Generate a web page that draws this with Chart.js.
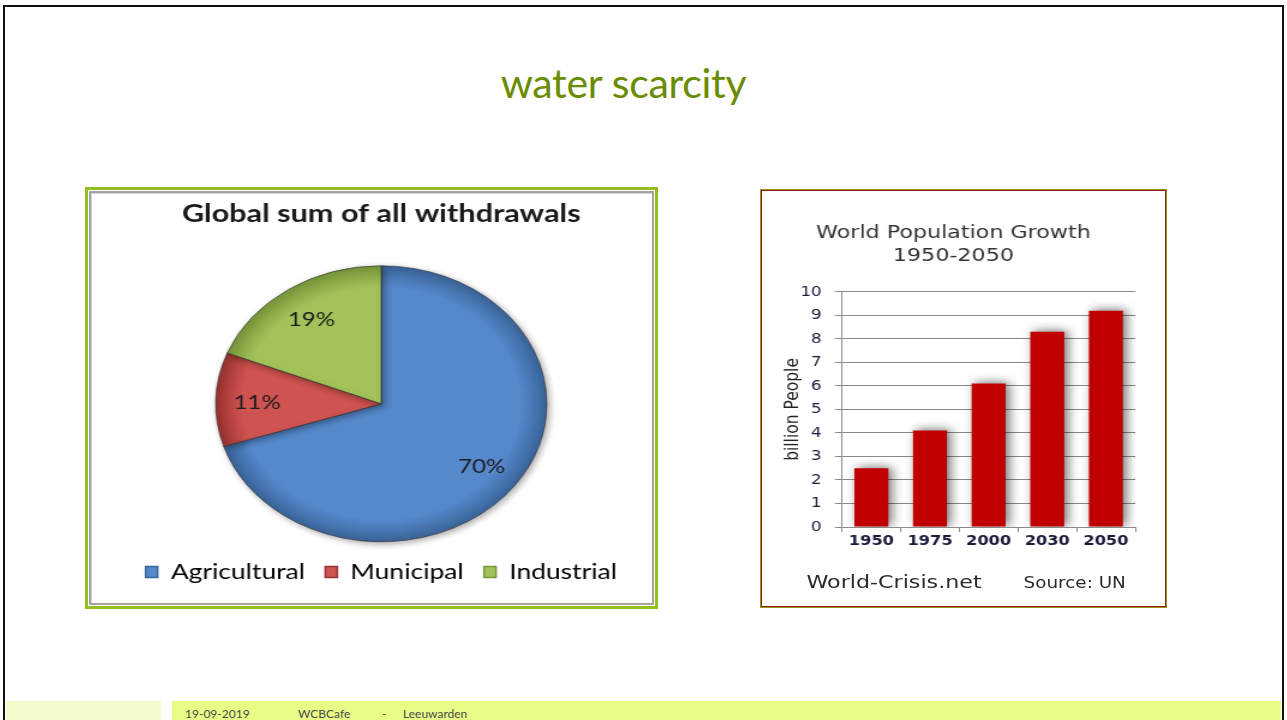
<!DOCTYPE html>
<html>
<head>
<meta charset="utf-8">
<script src="https://cdn.jsdelivr.net/npm/chart.js@4.4.1/dist/chart.umd.min.js"></script>
<style>
  body { margin: 0; width: 1287px; height: 720px; background: #fff; overflow: hidden; position: relative; font-family: Lato, "Open Sans", sans-serif; }
  .frame { position: absolute; left: 3px; top: 5px; width: 1281px; height: 740px; border: 2.5px solid #111; box-sizing: border-box; }
  .band-left { position: absolute; left: 6px; top: 701px; width: 155px; height: 19px; background: #f4fccb; }
  .band-right { position: absolute; left: 172px; top: 701px; width: 1109px; height: 19px; background: #e8fd86; }
  .foot { position: absolute; top: 706px; font-size: 12px; color: #4a4a4a; line-height: 15px; }
  h1 { position: absolute; left: 0; width: 1247px; top: 58px; margin: 0; text-align: center; font-weight: 400; font-size: 41px; color: #6a8c00; line-height: 50px; letter-spacing: -0.3px; }
  .pie-panel { position: absolute; left: 85px; top: 187px; width: 573px; height: 422px; border: 3px solid #93c01f; box-sizing: border-box; background: #fff; }
  .pie-panel .inner { position: absolute; left: 1px; top: 1px; right: 1px; bottom: 1px; border: 2px solid #a4a4a4; box-shadow: inset 1px 1px 0 #d6d6d6; }
  .bar-panel { position: absolute; left: 760px; top: 189px; width: 407px; height: 419px; border: 1px solid #9a9a10; box-sizing: border-box; background: #fff; }
  .bar-panel .inner { position: absolute; left: 0; top: 0; right: 0; bottom: 0; border: 1px solid #8b1d1d; }
  .stretch { position: absolute; transform: scaleX(1.2); transform-origin: 0 0; }
  .stretch canvas { display: block; }
  .credit { position: absolute; font-family: "DejaVu Sans", Verdana, sans-serif; color: #2b2b2b; white-space: nowrap; }
</style>
</head>
<body>
<div class="frame"></div>
<h1>water scarcity</h1>

<div class="pie-panel"><div class="inner"></div></div>
<div class="stretch" style="left:92px; top:193px;">
  <canvas id="pieChart" width="466" height="410"></canvas>
</div>

<div class="bar-panel"><div class="inner"></div></div>
<div class="stretch" style="left:762px; top:191px;">
  <canvas id="barChart" width="336" height="415"></canvas>
  <div class="credit" style="left:37px; top:380px; font-size:18.5px;">World-Crisis.net</div>
  <div class="credit" style="left:218px; top:383px; font-size:15.3px;">Source: UN</div>
</div>

<div class="band-left"></div>
<div class="band-right"></div>
<div class="foot" style="left:185px;">19-09-2019</div>
<div class="foot" style="left:298px;">WCBCafe</div>
<div class="foot" style="left:382px;">-</div>
<div class="foot" style="left:403px;">Leeuwarden</div>

<script>
// pie data
const pieLabels = ['Agricultural', 'Municipal', 'Industrial'];
const pieValues = [70, 11, 19];

// bar data
const years = ['1950', '1975', '2000', '2030', '2050'];
const population = [2.5, 4.1, 6.1, 8.3, 9.2];

const pieColors = ['#5589cc', '#cf5350', '#a2c35a'];
const pieEdges = ['#3a6499', '#9a3230', '#78973a'];
const pieRadius = 138;

// soft drop shadow under the marks
function shadowPlugin(id, color, blur, dx, dy) {
    return {
        id: id,
        beforeDatasetsDraw(chart) {
            const ctx = chart.ctx;
            ctx.save();
            ctx.shadowColor = color;
            ctx.shadowBlur = blur;
            ctx.shadowOffsetX = dx;
            ctx.shadowOffsetY = dy;
        },
        afterDatasetsDraw(chart) {
            chart.ctx.restore();
        }
    };
}

const pieLabelPlugin = {
    id: 'pieLabels',
    afterDraw(chart) {
        const ctx = chart.ctx;
        const meta = chart.getDatasetMeta(0);
        ctx.save();
        ctx.font = '20px Lato';
        ctx.fillStyle = '#1c1c1c';
        ctx.textAlign = 'center';
        ctx.textBaseline = 'middle';
        meta.data.forEach((arc, i) => {
            const mid = (arc.startAngle + arc.endAngle) / 2;
            const r = arc.outerRadius * 0.75;
            ctx.fillText(pieValues[i] + '%', arc.x + Math.cos(mid) * r, arc.y + Math.sin(mid) * r + 1.5);
        });
        ctx.restore();
    }
};

function sliceFill(context) {
    const chart = context.chart;
    const area = chart.chartArea;
    const i = context.dataIndex;
    if (!area) return pieColors[i];
    const cx = (area.left + area.right) / 2;
    const cy = (area.top + area.bottom) / 2;
    const g = chart.ctx.createRadialGradient(cx, cy, 0, cx, cy, pieRadius);
    g.addColorStop(0, pieColors[i]);
    g.addColorStop(0.84, pieColors[i]);
    g.addColorStop(1, pieEdges[i]);
    return g;
}

new Chart(document.getElementById('pieChart'), {
    type: 'pie',
    data: {
        labels: pieLabels,
        datasets: [{
            data: pieValues,
            backgroundColor: sliceFill,
            borderColor: 'rgba(45,45,45,0.6)',
            borderWidth: 1,
            radius: pieRadius
        }]
    },
    options: {
        responsive: false,
        animation: false,
        layout: { padding: { left: 16, bottom: 10 } },
        plugins: {
            title: {
                display: true,
                text: 'Global sum of all withdrawals',
                color: '#1a1a1a',
                font: { family: 'Lato', size: 25.5, weight: 'bold' },
                padding: { top: 5, bottom: 35 }
            },
            legend: {
                position: 'bottom',
                labels: {
                    color: '#1d1d35',
                    font: { family: 'Lato', size: 22 },
                    boxWidth: 10,
                    boxHeight: 11,
                    padding: 17,
                    generateLabels(chart) {
                        return pieLabels.map((label, i) => ({
                            text: label,
                            fillStyle: pieColors[i],
                            strokeStyle: pieEdges[i],
                            lineWidth: 1.5,
                            index: i
                        }));
                    }
                }
            },
            tooltip: { enabled: false }
        }
    },
    plugins: [shadowPlugin('pieShadow', 'rgba(0,0,0,0.35)', 6, 2, 2), pieLabelPlugin]
});

new Chart(document.getElementById('barChart'), {
    type: 'bar',
    data: {
        labels: years,
        datasets: [{
            label: 'billion People',
            data: population,
            backgroundColor: '#c00000',
            categoryPercentage: 1,
            barPercentage: 0.58
        }]
    },
    options: {
        responsive: false,
        animation: false,
        layout: { padding: { left: 8, right: 25, bottom: 49 } },
        plugins: {
            legend: { display: false },
            tooltip: { enabled: false },
            title: {
                display: true,
                text: ['World Population Growth', '1950-2050'],
                color: '#333',
                font: { family: 'DejaVu Sans', size: 18.5, weight: 'normal', lineHeight: 1.24 },
                padding: { top: 30.5, bottom: 24.5 }
            }
        },
        scales: {
            x: {
                grid: { offset: true, drawOnChartArea: false, drawTicks: true, tickLength: 5, color: '#8a8a8a' },
                border: { display: true, color: '#8a8a8a' },
                ticks: { color: '#1a1a3a', padding: 1, font: { family: 'DejaVu Sans', size: 13.5, weight: 'bold' } },
                afterFit(scale) { scale.height = 30; }
            },
            y: {
                min: 0,
                max: 10,
                ticks: { stepSize: 1, color: '#1a1a40', padding: 11, font: { family: 'DejaVu Sans', size: 14 } },
                grid: { color: '#8a8a8a', tickLength: 6 },
                border: { display: true, color: '#8a8a8a' },
                title: {
                    display: true,
                    text: 'billion People',
                    color: '#222',
                    font: { family: 'DejaVu Sans', size: 15.5 },
                    padding: { top: 9, bottom: 0 }
                },
                afterFit(scale) { scale.width = 58.7; }
            }
        }
    },
    plugins: [shadowPlugin('barShadow', 'rgba(0,0,0,0.55)', 10, 3, -1)]
});
</script>
</body>
</html>
